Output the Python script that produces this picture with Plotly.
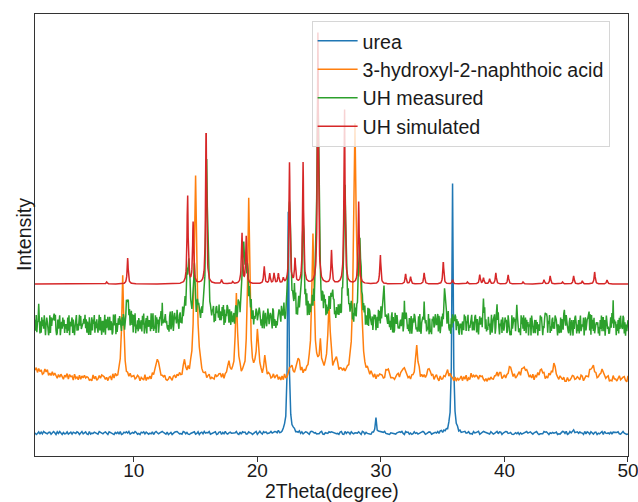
import numpy as np
import plotly.graph_objects as go

# ---------------- data ----------------
X_MIN, X_MAX = 2, 50
X_TICKS = [10, 20, 30, 40, 50]
SERIES_NAMES = ["urea", "3-hydroxyl-2-naphthoic acid", "UH measured", "UH simulated"]
X_TITLE = "2Theta(degree)"
Y_TITLE = "Intensity"

# urea (blue)
UREA_BASE = 23
UREA_POS = [22.5, 29.6, 35.8, 45.6]
UREA_H = [222, 14, 249, 3]
UREA_W = [0.06, 0.06, 0.06, 0.1]
UREA_NOISE = (
    "5038172964" "2671495083" "9406238157" "1753860492" "6820914375"
    "3197526840" "8542063719" "0275849136" "4961307582" "7314280695"
    "2589641703" "6047895231" "9726103458" "1380572946" "5913468027"
    "8062931574" "3459207186" "7128540369" "0694185723" "4835762910"
    "1570329648" "9243816057" "6308974512" "2791054386" "8654230791"
    "0937618425" "5482097163" "3106459278" "7869321054" "4215786930"
    "9671402835" "1358960247" "6024537189" "2847195360" "8590613472"
    "3712084569" "0469753218" "5136928704" "7983461025" "2605137894"
    "6841579302" "1297840536" "4570216983" "9028365147" "3754092861"
    "8316704259" "0943528176" "5682179430" "2179653048" "7435810692"
)

# 3-hydroxyl-2-naphthoic acid (orange)
ACID_BASE = 77
ACID_POS = [2.0, 9.1, 11.9, 14.1, 15.0, 17.7, 18.3, 19.3, 20.0, 20.6, 22.7, 23.3,
            24.5, 25.1, 25.8, 26.4, 27.9, 28.3, 30.5, 31.8, 32.9, 33.9, 35.4,
            37.4, 39.5, 40.4, 41.6, 43.0, 44.0, 47.1, 47.9]
ACID_H = [9, 100, 20, 16, 205, 13, 83, 181, 46, 21, 10, 17,
          143, 30, 73, 18, 245, 100, 8, 12, 32, 9, 6,
          3, 5, 11, 13, 8, 13, 14, 6]
ACID_W = [1.5, 0.1, 0.15, 0.12, 0.12, 0.15, 0.1, 0.1, 0.1, 0.1, 0.15, 0.2,
          0.12, 0.1, 0.12, 0.15, 0.12, 0.15, 0.15, 0.15, 0.12, 0.15, 0.2,
          0.2, 0.2, 0.15, 0.25, 0.2, 0.15, 0.2, 0.15]
ACID_NOISE = (
    "4817360295" "9152837406" "2730649185" "6093518274" "8465120937"
    "1384976250" "5609283174" "3971052846" "7248605319" "0526194783"
    "8935471026" "2067385941" "6412907358" "1859632470" "4703218569"
    "9380546712" "5124789036" "0761953482" "3597014628" "7249368150"
    "6081257394" "1436809275" "8592143067" "2718596034" "5074231896"
    "9365082741" "0847615329" "4293170658" "7610849523" "3158926407"
    "8724053196" "1906372485" "5481693072" "2637918540" "6052481739"
    "0419265873" "9783140526" "3265807914" "7140596382" "4891732065"
    "1528064937" "6370429581" "8943175260" "0612598347" "5297036418"
    "2084713659" "7536802194" "4159367820" "9802641753" "3761250489"
)

# UH measured (green), sampled every 0.05 degree
MEAS_BASE = 130
MEAS_POS = [2.3, 3.5, 5.8, 9.5, 12.3, 17.0, 14.4, 14.9, 15.9, 18.9, 19.2,
            25.5, 22.6, 23.0, 23.7, 24.9, 26.0, 27.1, 28.3, 30.2, 31.9, 33.5,
            35.2, 37.0, 38.3, 39.4, 41.0, 43.4, 44.8, 46.8, 48.8]
MEAS_H = [14, 10, 10, 25, 12, 8, 60, 40, 150, 70, 40,
          10, 118, 20, 95, 228, 25, 130, 80, 40, 15, 15,
          40, 12, 30, 22, 15, 20, 15, 22, 20]
MEAS_W = [0.04, 0.04, 0.04, 0.12, 0.04, 3.0, 0.15, 0.1, 0.1, 0.15, 0.12,
          3.0, 0.1, 0.1, 0.1, 0.1, 0.1, 0.1, 0.12, 0.08, 0.04, 0.04,
          0.08, 0.04, 0.06, 0.04, 0.04, 0.04, 0.04, 0.04, 0.04]
MEAS_NOISE = (
    "7291548306" "1847392058" "6302918475" "4869201735" "9026384715"
    "3518290647" "8173046925" "2694810357" "5937162084" "0482759163"
    "7315928406" "6149073582" "3826501947" "9051374862" "1738602495"
    "4627159380" "8390426175" "2561849037" "7084365192" "5913280746"
    "0376918254" "6845213079" "1297048563" "9530672418" "3468159027"
    "7821034596" "2059786314" "5143927680" "8692301457" "0417856392"
    "6238490715" "4985172063" "1350687249" "7604293851" "2871560934"
    "9126043587" "3589721406" "8047315962" "5762098143" "0314687529"
    "6459201378" "1938754620" "7280416935" "4615389072" "9073162548"
    "2806945317" "5341078296" "8162539704" "0597824163" "3724610958"
    "8150372946" "3697140825" "0428965173" "6274803519" "1985326047"
    "5703619482" "9241087356" "4386251790" "7019548623" "2563790184"
    "6932417058" "0475986231" "3819205674" "8546132907" "1207683495"
    "4691850372" "7358024169" "2140739586" "9827461053" "5063297814"
    "0714358926" "3289617405" "8456073291" "6132845079" "1578902643"
    "9305471862" "4867129530" "2093586714" "7641230958" "3925817460"
    "5480962137" "1736054298" "8204379615" "0659142783" "6398720541"
    "2817503964" "9542168037" "4073896152" "7169235480" "3825640719"
    "0937281456" "5614073928" "8270596341" "1483927065" "6052718394"
    "4398160527" "7921453086" "2645039817" "9087312645" "3516847902"
)

# UH simulated (red)
SIM_BASE = 172
SIM_POS = [7.8, 9.5, 14.35, 14.8, 15.85, 17.1, 18.0, 18.75, 19.1, 20.55, 21.0,
           21.35, 21.7, 22.1, 22.6, 23.05, 23.7, 24.9, 26.0, 27.05, 28.2, 29.95,
           32.0, 32.4, 33.5, 35.05, 35.8, 37.0, 38.0, 38.3, 38.8, 39.3, 40.3,
           41.5, 43.2, 43.7, 44.7, 45.6, 46.3, 47.3, 48.3]
SIM_H = [2, 26, 91, 61, 156, 4, 2, 52, 47, 18, 10,
         10, 10, 5, 121, 24, 121, 251, 33, 181, 82, 30,
         10, 7, 11, 22, 4, 2, 9, 6, 5, 11, 9,
         2, 4, 8, 2, 8, 3, 12, 4]
SIM_W = 0.05

NOISE_AMP = {"urea": 1.5, "acid": 3.0, "meas": 10.0}


# ---------------- build curves from the tables ----------------
def peaks(x, pos, h, w):
    w = np.broadcast_to(np.asarray(w, dtype=float), (len(pos),))
    y = np.zeros_like(x)
    for p, hh, ww in zip(pos, h, w):
        y += hh / (1.0 + ((x - p) / ww) ** 2)
    return y


def noise(s, n, amp):
    d = np.array([int(c) for c in s[:n]], dtype=float)
    return (d - 4.5) / 4.5 * amp


x_step = np.round(np.arange(X_MIN, X_MAX + 1e-9, 0.1), 1)
x_meas = np.round(np.arange(X_MIN, X_MAX + 1e-9, 0.05), 2)
x_fine = np.round(np.arange(X_MIN, X_MAX + 1e-9, 0.02), 2)
n = len(x_step)
nm = len(x_meas)

y_urea = UREA_BASE + peaks(x_step, UREA_POS, UREA_H, UREA_W) + noise(UREA_NOISE, n, NOISE_AMP["urea"])
y_acid = ACID_BASE + peaks(x_step, ACID_POS, ACID_H, ACID_W) + noise(ACID_NOISE, n, NOISE_AMP["acid"])
y_meas = MEAS_BASE + peaks(x_meas, MEAS_POS, MEAS_H, MEAS_W) + noise(MEAS_NOISE, nm, NOISE_AMP["meas"])
y_sim = SIM_BASE + peaks(x_fine, SIM_POS, SIM_H, SIM_W)

COLORS = ["#1f77b4", "#ff7f0e", "#2ca02c", "#d62728"]
FONT = "Liberation Sans, Arial, sans-serif"

fig = go.Figure()
for xs, ys, name, col in [
    (x_step, y_urea, SERIES_NAMES[0], COLORS[0]),
    (x_step, y_acid, SERIES_NAMES[1], COLORS[1]),
    (x_meas, y_meas, SERIES_NAMES[2], COLORS[2]),
    (x_fine, y_sim, SERIES_NAMES[3], COLORS[3]),
]:
    fig.add_trace(go.Scatter(x=xs, y=ys, mode="lines", name=name,
                             line=dict(color=col, width=1.5)))

fig.update_layout(
    width=638, height=502,
    margin=dict(l=35, r=10, t=14, b=46),
    paper_bgcolor="white", plot_bgcolor="white",
    font=dict(family=FONT, size=19, color="#1a1a1a"),
    showlegend=True,
    legend=dict(x=0.969, y=0.985, xanchor="right", yanchor="top",
                bgcolor="rgba(255,255,255,0.8)", bordercolor="#d6d6d6",
                borderwidth=1, font=dict(size=19.6), tracegroupgap=0,
                itemwidth=40),
    annotations=[
        dict(text=X_TITLE, xref="paper", yref="paper", x=0.5, y=0,
             xanchor="center", yanchor="middle", yshift=-35, showarrow=False,
             font=dict(size=19.4)),
        dict(text=Y_TITLE, xref="paper", yref="paper", x=0, y=0.5,
             xanchor="center", yanchor="middle", xshift=-11, textangle=-90,
             showarrow=False, font=dict(size=19.6)),
    ],
)
fig.update_xaxes(
    range=[X_MIN, X_MAX + 0.001], tickvals=X_TICKS, ticks="outside", ticklen=5,
    tickcolor="#333", showline=True, linecolor="#333", linewidth=1,
    mirror=True, showgrid=False, zeroline=False, ticklabelstandoff=-8,
    ticklabeloverflow="allow", automargin=False,
)
fig.update_yaxes(
    range=[0, 442], showticklabels=False, ticks="", showline=True,
    linecolor="#333", linewidth=1, mirror=True, showgrid=False,
    zeroline=False, automargin=False,
)

fig.write_html("out.html")
